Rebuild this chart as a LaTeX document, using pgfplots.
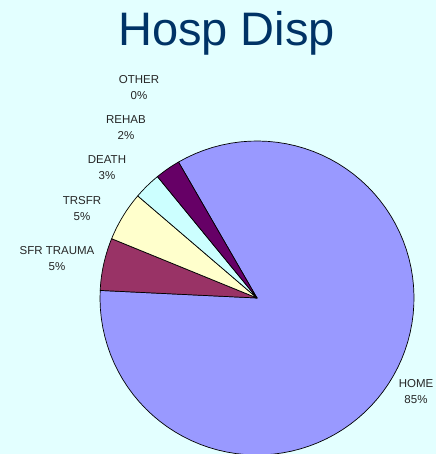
\documentclass[border=0pt]{standalone}
\usepackage{pgfplots}
\pgfplotsset{compat=1.18}
\usepackage{fontspec}
\setmainfont{Liberation Sans}
\definecolor{bg}{HTML}{E3FFFF}
\definecolor{titlec}{HTML}{003366}
\definecolor{cHome}{HTML}{9999FF}
\definecolor{cSfr}{HTML}{993366}
\definecolor{cTrsfr}{HTML}{FFFFCC}
\definecolor{cDeath}{HTML}{CCFFFF}
\definecolor{cRehab}{HTML}{660066}
\definecolor{cOther}{HTML}{CCCCFF}
% slice data (percent)
\def\vHome{84.1}
\def\vSfr{5.4}
\def\vTrsfr{5.1}
\def\vDeath{2.8}
\def\vRehab{2.6}
\def\vOther{0.0}
\xdef\angleacc{120}
\newcommand\slice[2]{%
  \pgfmathsetmacro\sa{\angleacc}%
  \pgfmathsetmacro\sb{\angleacc-3.6*#1}%
  \edef\temp{\noexpand\addplot[fill=#2, draw=black, line width=0.7pt, line join=round, domain=\sb:\sa, samples=90] ({257+157*cos(x)},{156+157*sin(x)}) -- (axis cs:257,156) -- cycle;}%
  \temp
  \xdef\angleacc{\sb}%
}
\begin{document}
\begin{tikzpicture}
\fill[bg] (0,0) rectangle (436pt,454pt);
\begin{axis}[at={(0,0)}, anchor=south west, width=436pt, height=454pt, scale only axis,
  xmin=0, xmax=436, ymin=0, ymax=454, hide axis, clip=true]
\slice{\vHome}{cHome}
\slice{\vSfr}{cSfr}
\slice{\vTrsfr}{cTrsfr}
\slice{\vDeath}{cDeath}
\slice{\vRehab}{cRehab}
\ifdim\vOther pt>0pt \slice{\vOther}{cOther}\fi
\node[anchor=base, text=titlec, font=\fontsize{47}{50}\selectfont] at (axis cs:226.5,408) {Hosp Disp};
\tikzset{lbl/.style={align=center, font=\fontsize{11.5}{16}\selectfont, text=black!85, inner sep=0pt}}
\node[lbl] at (axis cs:139,366) {OTHER\\0\%};
\node[lbl] at (axis cs:126,326) {REHAB\\2\%};
\node[lbl] at (axis cs:107,286) {DEATH\\3\%};
\node[lbl] at (axis cs:82,245) {TRSFR\\5\%};
\node[lbl] at (axis cs:57,195.5) {SFR TRAUMA\\5\%};
\node[lbl] at (axis cs:416,62) {HOME\\85\%};
\end{axis}
\end{tikzpicture}
\end{document}
